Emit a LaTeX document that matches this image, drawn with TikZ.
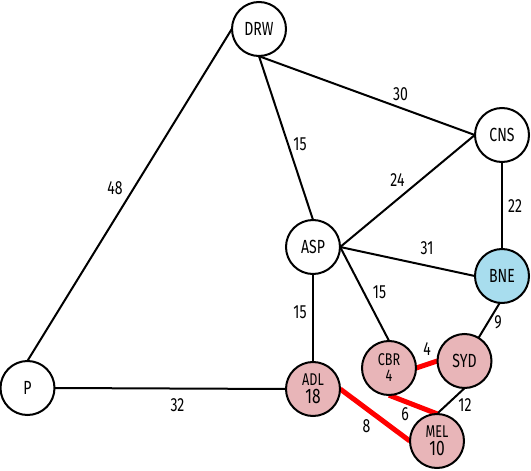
\documentclass[tikz,border=0pt]{standalone}
\usepackage{fontspec}
\setmainfont{Fira Sans}[FakeStretch=0.74]
\definecolor{pinkfill}{HTML}{E8B5B8}
\definecolor{bluefill}{HTML}{A8DDEE}
\begin{document}
\begin{tikzpicture}[x=1pt,y=-1pt,
  city/.style={circle,draw=black,line width=2pt,fill=white,minimum size=54pt,inner sep=0pt,font=\fontsize{19}{19}\selectfont,align=center},
  pinkcity/.style={city,fill=pinkfill,font=\fontsize{17}{17}\selectfont},
  bluecity/.style={city,fill=bluefill},
  anchorpt/.style={circle,minimum size=54pt,inner sep=0pt},
  road/.style={line width=2pt,draw=black},
  redroad/.style={line width=5pt,draw=red},
  wt/.style={font=\fontsize{19}{19}\selectfont,inner sep=0pt}]
\useasboundingbox[fill=white] (0,0) rectangle (531,471);
% positions of the cities (invisible shapes used as connector ends)
\node[anchorpt] (DRW) at (259,29) {};
\node[anchorpt] (CNS) at (502,135) {};
\node[anchorpt] (ASP) at (313,247) {};
\node[anchorpt] (BNE) at (502,276) {};
\node[anchorpt] (P) at (27.5,388) {};
\node[anchorpt] (ADL) at (313,389) {};
\node[anchorpt] (CBR) at (389,368) {};
\node[anchorpt] (SYD) at (464.5,361) {};
\node[anchorpt] (MEL) at (437,441) {};
% roads
\path[road] (DRW.west) -- (P.north);
\path[road] (DRW.south) -- (CNS.west);
\path[road] (DRW.south) -- (ASP.north);
\path[road] (CNS.west) -- (ASP.east);
\path[road] (CNS.south) -- (BNE.north);
\path[road] (ASP.east) -- (BNE.west);
\path[road] (ASP.east) -- (CBR.north);
\path[road] (ASP.south) -- (ADL.north);
\path[road] (BNE.-95) -- (SYD);
\path[road] (P.east) -- (ADL.west);
\path[road] (SYD.south) -- (MEL.north);
\path[redroad] (CBR.east) -- (SYD.west);
\path[redroad] (CBR.south) -- (MEL.north);
\path[redroad] (ADL.east) -- (MEL.west);
% city circles drawn on top
\node[city] (nDRW) at (DRW) {DRW};
\node[city] (nCNS) at (CNS) {CNS};
\node[city] (nASP) at (ASP) {ASP};
\node[bluecity] (nBNE) at (BNE) {BNE};
\node[city] (nP) at (P) {P};
\node[pinkcity] (nADL) at (ADL) {ADL\\[1pt]{\fontsize{21}{21}\selectfont 18}};
\node[pinkcity] (nCBR) at (CBR) {CBR\\[-1pt]4};
\node[pinkcity] (nSYD) at (SYD) {\fontsize{19}{19}\selectfont SYD};
\node[pinkcity] (nMEL) at (MEL) {MEL\\[1pt]{\fontsize{21}{21}\selectfont 10}};
% weights
\node[wt] (w48) at (115,188.5) {48};
\node[wt] (w30) at (400.5,94) {30};
\node[wt] (w15a) at (300,144) {15};
\node[wt] (w24) at (397.5,180) {24};
\node[wt] (w22) at (515,206) {22};
\node[wt] (w31) at (427,248.5) {31};
\node[wt] (w15b) at (300,312) {15};
\node[wt] (w15c) at (379.5,292) {15};
\node[wt] (w9) at (498,322) {9};
\node[wt] (w4) at (427,349.5) {4};
\node[wt] (w12) at (465,405) {12};
\node[wt] (w6) at (405,414) {6};
\node[wt] (w8) at (366.5,426) {8};
\node[wt] (w32) at (177.5,405.5) {32};
\end{tikzpicture}
\end{document}
